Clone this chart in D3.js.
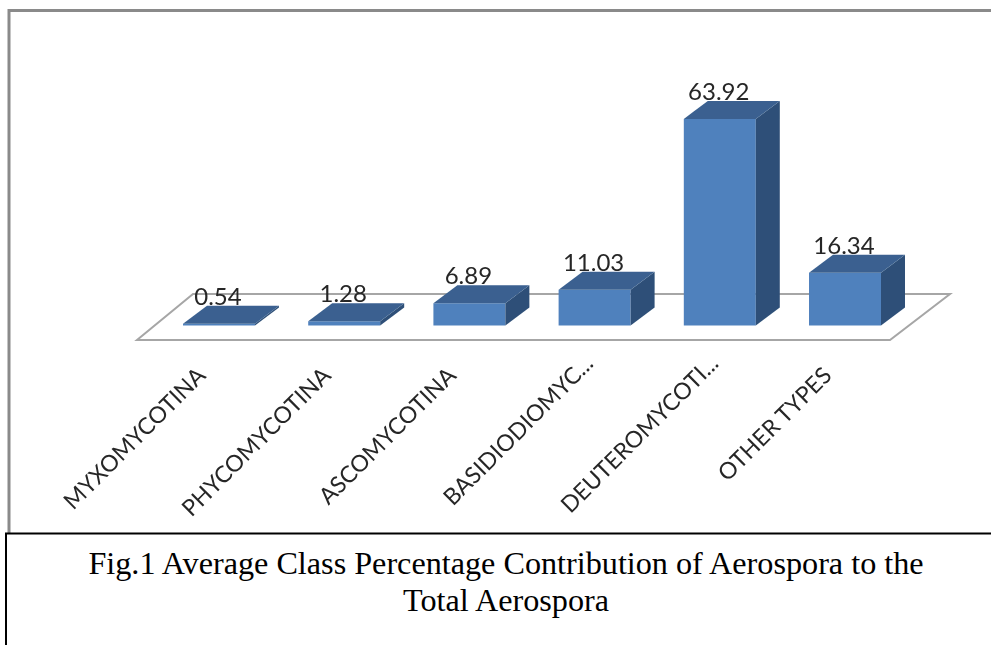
<!DOCTYPE html>
<html><head><meta charset="utf-8">
<script src="https://cdn.jsdelivr.net/npm/d3@7/dist/d3.min.js"></script>
<style>html,body{margin:0;padding:0;background:#fff}svg{display:block}</style>
</head><body><div id="c"></div>
<script>
const categories = ["MYXOMYCOTINA","PHYCOMYCOTINA","ASCOMYCOTINA","BASIDIODIOMYC...","DEUTEROMYCOTI...","OTHER TYPES"];
const values = [0.54,1.28,6.89,11.03,63.92,16.34];
const valueLabels = ["0.54","1.28","6.89","11.03","63.92","16.34"];
const captionLines = ["Fig.1 Average Class Percentage Contribution of Aerospora to the","Total Aerospora"];

const W=991,H=645;
const svg=d3.select("#c").append("svg").attr("width",W).attr("height",H);
const defs=svg.append("defs");
defs.append("filter").attr("id","soft").append("feGaussianBlur").attr("stdDeviation",0.5);

const x=d3.scaleBand().domain(categories).range([183,881]).paddingInner(0.425).paddingOuter(0);
const y=d3.scaleLinear().domain([0,63.92]).range([325.5,119]);
const depth={dx:24,dy:-18};
const line=d3.line();

// outer frame
svg.append("path").attr("d",line([[9,533],[9,10.5],[991,10.5]]))
  .attr("fill","none").attr("stroke","#8a8a8a").attr("stroke-width",3);

// floor
const floor=[[137,340],[890,340],[950,294],[193,294]];
svg.append("path").attr("d",line(floor)+"Z").attr("fill","#fff").attr("stroke","#a6a6a6").attr("stroke-width",2).attr("filter","url(#soft)");

const chart=svg.append("g").attr("filter","url(#soft)");
const bars=chart.selectAll("g.bar").data(categories.map((c,i)=>({c,v:values[i],t:valueLabels[i]}))).join("g").attr("class","bar");
bars.append("path").attr("fill","#4f81bd").attr("d",d=>{
  const a=x(d.c),b=a+x.bandwidth();return line([[a,y(0)],[b,y(0)],[b,y(d.v)],[a,y(d.v)]])+"Z";});
bars.append("path").attr("fill","#2f5078").attr("d",d=>{
  const b=x(d.c)+x.bandwidth();return line([[b,y(0)],[b+depth.dx,y(0)+depth.dy],[b+depth.dx,y(d.v)+depth.dy],[b,y(d.v)]])+"Z";});
bars.append("path").attr("fill","#3a6190").attr("d",d=>{
  const a=x(d.c),b=a+x.bandwidth(),t=y(d.v);return line([[a,t],[b,t],[b+depth.dx,t+depth.dy],[a+depth.dx,t+depth.dy]])+"Z";});
bars.append("text").attr("x",d=>x(d.c)+x.bandwidth()/2-1).attr("y",d=>y(d.v)+depth.dy-1)
  .attr("text-anchor","middle").attr("font-family","Lato").attr("font-size",24).attr("fill","#262626").text(d=>d.t);

// category labels (clipped labels run further up the diagonal)
chart.selectAll("text.cat").data(categories).join("text").attr("class","cat")
  .attr("transform",d=>{
    const s=d.endsWith("...")?12:0;
    return `translate(${x(d)+x.bandwidth()/2-25+s},${364-s}) rotate(-45)`;})
  .attr("text-anchor","end").attr("dy","0.8em")
  .attr("font-family","Lato").attr("font-size",23).attr("fill","#262626").text(d=>d);

// caption box
svg.append("path").attr("d",line([[6,645],[6,533.5],[991,533.5]])).attr("fill","none").attr("stroke","#000").attr("stroke-width",2);
svg.selectAll("text.cap").data(captionLines).join("text").attr("class","cap")
  .attr("x",506).attr("y",(d,i)=>574+i*37).attr("text-anchor","middle")
  .attr("font-family","'Liberation Serif'").attr("font-size",32.2).attr("fill","#000").text(d=>d);
</script></body></html>
